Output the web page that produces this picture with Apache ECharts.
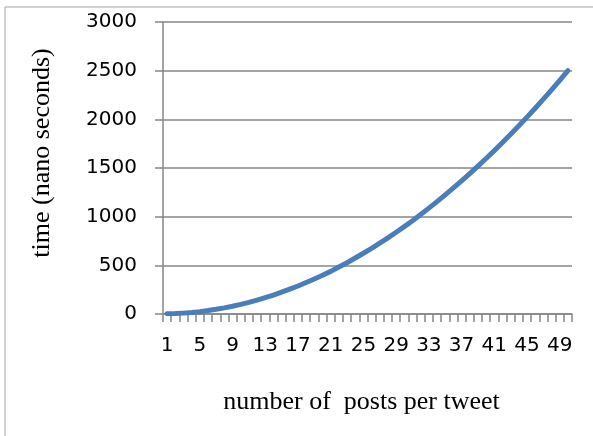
<!DOCTYPE html>
<html>
<head>
<meta charset="utf-8">
<script src="https://cdn.jsdelivr.net/npm/echarts@6/dist/echarts.min.js"></script>
<style>
  html, body { margin: 0; padding: 0; background: #fff; }
  #chart { width: 593px; height: 436px; }
</style>
</head>
<body>
<div id="chart"></div>
<script>
// posts per tweet 1..50
var postCounts = [];
for (var i = 1; i <= 50; i++) {
  postCounts.push(String(i));
}

// time in nano seconds
var timeNs = [
  2, 4, 9, 15, 24, 35, 48, 63, 80, 99,
  120, 143, 168, 195, 224, 255, 288, 323, 360, 398,
  438, 482, 527, 575, 624, 675, 728, 783, 840, 898,
  958, 1022, 1088, 1155, 1224, 1295, 1368, 1443, 1520, 1598,
  1679, 1762, 1847, 1934, 2023, 2114, 2207, 2302, 2400, 2500
];

var yTicks = { min: 0, max: 3000, step: 500 };

var GRAY = '#878787';

function initChart() {
  var chart = echarts.init(document.getElementById('chart'));
  var option = {
    animation: false,
    backgroundColor: '#fff',
    grid: { left: 163, right: 21, top: 22, bottom: 122 },
    // frame lines at the left and top edge
    graphic: [{
      type: 'polyline',
      shape: { points: [[5, 436], [5, 7], [593, 7]] },
      style: { stroke: '#a6a6a6', lineWidth: 1, fill: null }
    }],
    xAxis: {
      type: 'category',
      data: postCounts,
      boundaryGap: true,
      name: 'number of  posts per tweet',
      nameLocation: 'middle',
      nameGap: 75,
      nameTextStyle: { fontFamily: 'Liberation Serif', fontSize: 26, color: '#000', padding: [0, 12, 0, 0] },
      axisLine: { lineStyle: { color: GRAY, width: 1.5 } },
      axisTick: { show: true, interval: 0, length: 8, lineStyle: { color: GRAY, width: 1.5 } },
      axisLabel: { interval: 3, margin: 22, fontFamily: 'DejaVu Sans', fontSize: 20, color: '#000' },
      splitLine: { show: false }
    },
    yAxis: {
      type: 'value',
      min: yTicks.min,
      max: yTicks.max,
      interval: yTicks.step,
      name: 'time (nano seconds)',
      nameLocation: 'middle',
      nameGap: 108,
      nameRotate: 90,
      nameTextStyle: { fontFamily: 'Liberation Serif', fontSize: 26, color: '#000', padding: [0, 0, 0, 30] },
      axisLine: { show: true, lineStyle: { color: GRAY, width: 1.5 } },
      axisTick: { show: true, length: 8, lineStyle: { color: GRAY, width: 1.5 } },
      axisLabel: {
        margin: 26, fontFamily: 'DejaVu Sans', fontSize: 20, color: '#000',
        formatter: function (v) { return String(v); }
      },
      splitLine: { show: true, lineStyle: { color: GRAY, width: 1.5 } }
    },
    series: [{
      type: 'line',
      data: timeNs,
      showSymbol: false,
      lineStyle: { color: '#4a7ebb', width: 5, cap: 'round', join: 'round' },
      itemStyle: { color: '#4a7ebb' }
    }]
  };
  chart.setOption(option);
}

initChart();
</script>
</body>
</html>
